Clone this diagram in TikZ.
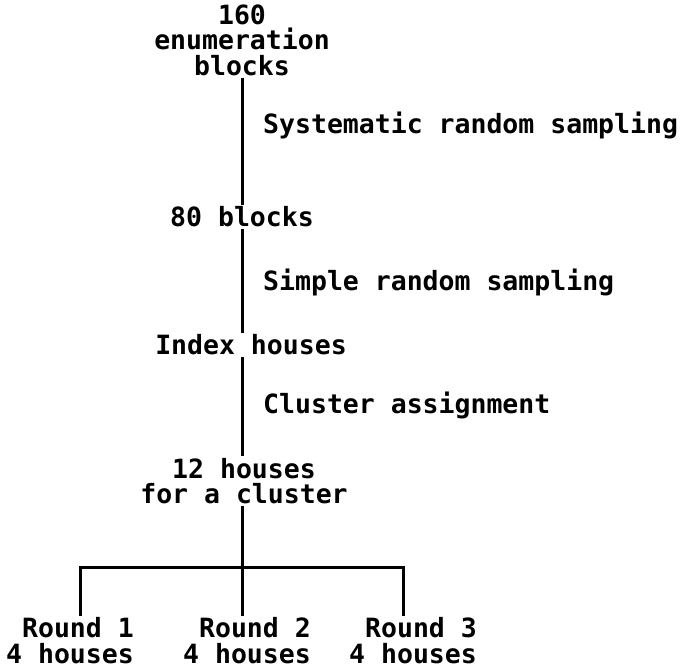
\documentclass[tikz,border=0pt]{standalone}
\usepackage{fontspec}
\setmainfont{DejaVu Sans Mono}
\usepackage{xcolor}
\definecolor{cInk}{HTML}{000000}
\usepackage{tikz}
\usetikzlibrary{positioning,calc}
\tikzset{
  node-stage/.style={inner sep=2pt,align=center,text=cInk,
    font=\fontsize{26.5}{25.5}\selectfont\bfseries},
  node-method/.style={inner sep=0pt,anchor=west,text=cInk,
    font=\fontsize{26.5}{25.5}\selectfont\bfseries},
  node-round/.style={inner sep=2pt,align=right,text=cInk,
    font=\fontsize{26.5}{26}\selectfont\bfseries},
  link/.style={draw=cInk,line width=3pt},
}
\begin{document}
\begin{tikzpicture}[x=1pt,y=1pt]
  \useasboundingbox (0,0) rectangle (685,-671);
  % stages of the sampling
  \node[node-stage] (blocks) at (242,-40) {160\\enumeration\\blocks};
  \node[node-stage] (sample) at (242,-217) {80 blocks};
  \node[node-stage] (index) at (251,-345) {Index houses};
  \node[node-stage] (cluster) at (244,-481) {12 houses\\for a cluster};
  % methods between the stages
  \node[node-method] (sys) at (263,-125) {Systematic random sampling};
  \node[node-method] (srs) at (263,-282) {Simple random sampling};
  \node[node-method] (assign) at (263,-405) {Cluster assignment};
  \draw[link] (blocks) -- (sample);
  \draw[link] (sample) -- (sample |- index.north);
  \draw[link] (sample |- index.south) -- (sample |- cluster.north);
  % split into three rounds
  \node[node-round] (round1) at (70,-641) {Round 1\\4 houses};
  \node[node-round] (round2) at (247,-641) {Round 2\\4 houses};
  \node[node-round] (round3) at (413,-641) {Round 3\\4 houses};
  \coordinate (fork) at (242,-567);
  \coordinate (forkL) at (80,-567);
  \coordinate (forkR) at (403,-567);
  \draw[link] (fork |- cluster.south) -- (fork);
  \draw[link] (forkL |- round1.north) -- (forkL) -- (forkR) -- (forkR |- round3.north);
  \draw[link] (fork) -- (fork |- round2.north);
\end{tikzpicture}
\end{document}
